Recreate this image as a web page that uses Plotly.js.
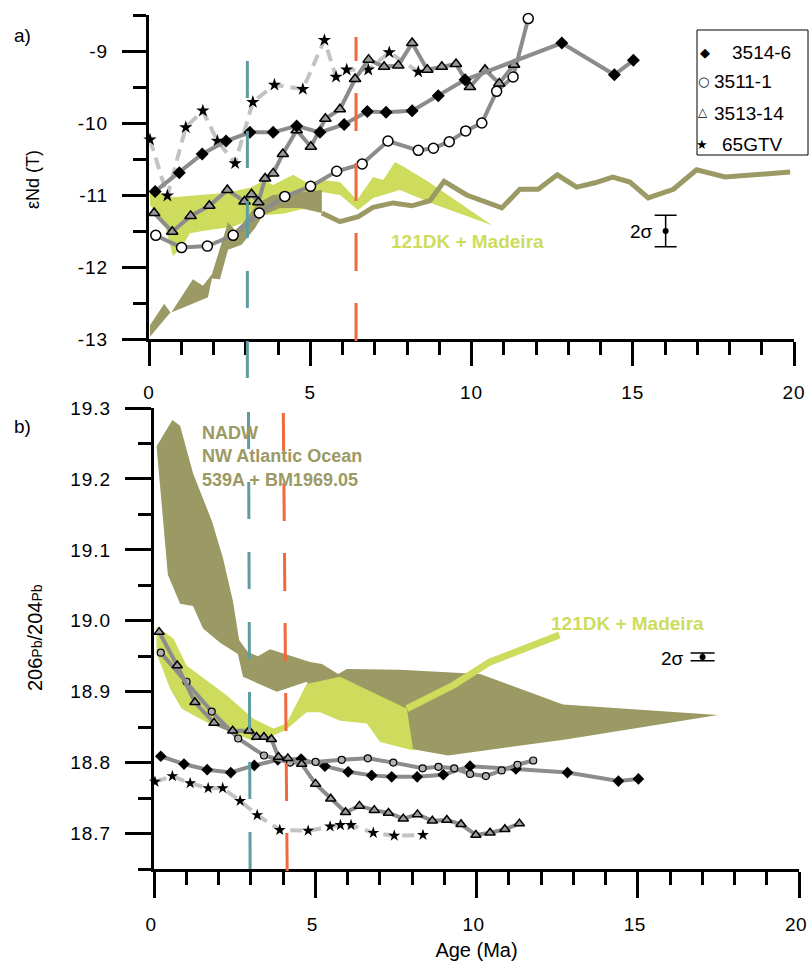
<!DOCTYPE html>
<html>
<head>
<meta charset="utf-8">
<script src="https://cdn.plot.ly/plotly-3.0.1.min.js"></script>
<style>
body{margin:0;background:#fff;}
.xtick text,.ytick text,.y2tick text{letter-spacing:1px;}
.x2tick text{letter-spacing:0.5px;}
</style>
</head>
<body>
<div id="chart" style="width:809px;height:961px;"></div>
<script>
// ---------- Panel a) eNd(T) ----------
const nd3514Age = [0.19,0.94,1.65,2.39,3.13,3.85,4.58,5.30,6.05,6.77,7.35,8.16,8.97,9.80,12.80,14.43,15.02];
const nd3514 = [-10.95,-10.69,-10.43,-10.25,-10.13,-10.13,-10.04,-10.13,-10.02,-9.84,-9.85,-9.83,-9.62,-9.40,-8.89,-9.33,-9.13];
const nd3511Age = [0.21,1.01,1.81,2.61,3.42,4.21,5.01,5.82,6.61,7.41,8.35,8.82,9.31,9.82,10.32,10.78,11.29,11.76];
const nd3511 = [-11.56,-11.73,-11.71,-11.56,-11.25,-11.02,-10.88,-10.67,-10.57,-10.25,-10.38,-10.35,-10.26,-10.11,-10.0,-9.56,-9.36,-8.55];
const nd3513Age = [0.16,0.72,1.29,1.87,2.43,2.96,3.18,3.39,3.60,3.85,4.15,4.58,5.02,5.47,5.92,6.39,6.81,7.29,7.73,8.16,8.63,9.08,9.52,9.95,10.42,10.86,11.32];
const nd3513 = [-11.25,-11.51,-11.29,-11.15,-10.93,-11.09,-10.99,-11.10,-10.77,-10.70,-10.43,-10.10,-10.33,-9.94,-9.81,-9.39,-9.12,-9.22,-9.20,-8.89,-9.26,-9.22,-9.18,-9.50,-9.26,-9.45,-9.19];
const ndGtvAge = [0.03,0.57,1.14,1.67,2.12,2.67,3.22,3.89,4.77,5.44,5.80,6.13,6.80,7.45,8.35];
const ndGtv = [-10.23,-11.01,-10.06,-9.83,-10.25,-10.56,-9.71,-9.47,-9.53,-8.85,-9.36,-9.26,-9.26,-9.02,-9.29];

// 121DK + Madeira envelope (outline, upper edge then lower edge back)
const ndMadeiraAge = [0.03,0.74,1.58,2.42,3.13,3.60,3.84,4.47,4.90,5.36,5.92,6.45,6.95,7.26,7.63,7.91,8.71,9.49,10.64,
                      8.90,7.78,6.95,6.48,5.92,5.36,4.90,4.16,3.50,2.60,1.80,1.27,1.02,0.74,0.50,0.19,0.03];
const ndMadeira = [-10.93,-11.03,-11.0,-10.97,-10.90,-10.79,-10.86,-10.72,-10.83,-10.79,-10.82,-11.07,-10.75,-10.79,-10.54,-10.61,-10.83,-11.07,-11.42,
                   -11.14,-10.93,-11.04,-11.21,-11.0,-10.96,-11.18,-11.26,-11.28,-11.44,-11.49,-11.53,-11.72,-11.85,-11.42,-11.24,-11.14];
// NADW envelope (outline)
const ndNadwAge = [0.03,0.47,0.68,1.36,1.67,1.95,2.45,2.67,2.91,3.38,3.84,5.36,
                   5.36,4.68,4.06,3.53,3.29,2.87,2.45,2.20,1.95,1.83,1.18,0.65,0.03];
const ndNadw = [-12.81,-12.51,-12.64,-12.17,-12.26,-12.10,-11.38,-11.49,-11.39,-11.11,-11.0,-10.93,
                -11.25,-11.18,-11.18,-11.28,-11.46,-11.69,-11.76,-12.17,-12.16,-12.42,-12.54,-12.64,-12.97];
// NADW single record beyond 5 Ma
const ndNadwLineAge = [5.36,5.92,6.49,6.95,7.57,8.15,8.71,9.15,9.85,10.94,11.50,12.07,12.66,13.26,13.83,14.38,14.91,15.48,16.26,16.98,17.86,19.88];
const ndNadwLine = [-11.25,-11.37,-11.30,-11.17,-11.11,-11.15,-11.08,-10.81,-11.0,-11.18,-10.92,-10.92,-10.72,-10.89,-10.83,-10.75,-10.82,-11.04,-10.92,-10.65,-10.75,-10.68];

const nd2sAge = [16.02], nd2sVal = [-11.5], nd2sErr = [0.22];
const ndTickVals = [-13,-12,-11,-10,-9];
const ndTickText = ['-13','-12','-11','-10','-9'];

// ---------- Panel b) 206Pb/204Pb ----------
const pb3514Age = [0.21,0.93,1.65,2.38,3.11,3.84,4.56,5.30,6.02,6.75,7.37,8.16,8.97,9.80,11.22,12.82,14.40,15.02];
const pb3514 = [18.809,18.798,18.790,18.786,18.796,18.804,18.805,18.795,18.787,18.782,18.780,18.780,18.783,18.795,18.791,18.786,18.774,18.777];
const pb3511Age = [0.21,1.01,1.79,2.61,3.41,4.22,5.01,5.82,6.63,7.42,8.33,8.82,9.31,9.80,10.29,10.78,11.27,11.76];
const pb3511 = [18.955,18.914,18.872,18.834,18.810,18.800,18.801,18.804,18.806,18.800,18.792,18.794,18.792,18.784,18.781,18.789,18.797,18.803];
const pb3513Age = [0.16,0.72,1.27,1.86,2.44,2.95,3.18,3.41,3.64,3.86,4.15,4.58,5.01,5.48,5.94,6.37,6.83,7.27,7.73,8.17,8.63,9.08,9.52,9.98,10.42,10.88,11.33];
const pb3513 = [18.984,18.937,18.885,18.856,18.845,18.845,18.836,18.836,18.833,18.808,18.806,18.798,18.770,18.749,18.730,18.739,18.733,18.729,18.721,18.727,18.718,18.719,18.713,18.698,18.701,18.706,18.714];
const pbGtvAge = [0.03,0.57,1.12,1.68,2.13,2.67,3.20,3.90,4.78,5.46,5.78,6.11,6.80,7.45,8.34];
const pbGtv = [18.773,18.781,18.771,18.764,18.764,18.746,18.726,18.705,18.704,18.710,18.712,18.712,18.701,18.697,18.698];

const pbNadwAge = [0.08,0.57,0.81,1.21,1.80,2.14,2.45,2.64,2.91,3.22,3.60,4.12,4.84,5.21,5.71,5.98,7.63,10.11,12.68,17.49,
                   12.81,9.12,8.03,6.79,5.77,5.15,4.74,3.81,2.76,2.60,2.05,1.52,1.21,0.81,0.43];
const pbNadw = [19.246,19.283,19.275,19.208,19.140,19.088,19.027,18.973,18.956,18.950,18.960,18.952,18.942,18.939,18.925,18.932,18.931,18.925,18.882,18.867,
                18.833,18.810,18.819,18.857,18.860,18.874,18.914,18.900,18.921,18.953,18.969,18.989,19.021,19.024,19.065];
const pbMadeiraAge = [0.08,0.60,1.01,1.63,2.25,3.08,3.70,4.11,4.73,5.77,7.84,8.04,
                      7.01,6.60,5.77,5.15,4.73,4.11,3.70,3.08,2.36,1.63,0.86,0.50,0.08];
const pbMadeira = [18.992,18.975,18.937,18.916,18.895,18.862,18.848,18.855,18.911,18.921,18.876,18.817,
                   18.829,18.855,18.859,18.871,18.871,18.847,18.838,18.831,18.843,18.857,18.876,18.904,18.954];
const pbMadeiraLineAge = [7.84,9.28,10.42,11.97,12.57];
const pbMadeiraLine = [18.876,18.909,18.942,18.970,18.980];

const pb2sAge = [17.01], pb2sVal = [18.949], pb2sErr = [0.0055];

// event lines (Ma)
const tealAgeA = 3.05, orangeAgeA = 6.42;
const tealAgeB = [2.93, 2.98], orangeAgeB = [4.01, 4.13];

// ---------- styles ----------
const FONT = 'Liberation Sans, Arial, sans-serif';
const OLIVE = '#9b9964';
const GREEN = '#cddc5c';
const LGRAY = '#8c8c8c';
const DGRAY = '#c3c3c3';
const TEAL = '#5f9c9f';
const ORANGE = '#f0693c';
const H = 961, W = 809;
const py = v => (H - v) / H;
const px = v => v / W;

function band(x, y, color, xa, ya) {
  return {x, y, xaxis: xa, yaxis: ya, mode: 'lines', fill: 'toself', fillcolor: color,
          line: {width: 0, color: color}, hoverinfo: 'skip'};
}
function series(x, y, xa, ya, lineColor, dash, marker) {
  return {x, y, xaxis: xa, yaxis: ya, mode: 'lines+markers', cliponaxis: false,
          line: {color: lineColor, width: 4, dash: dash}, marker: marker};
}

const traces = [
  band(ndMadeiraAge, ndMadeira, GREEN, 'x', 'y'),
  band(ndNadwAge, ndNadw, OLIVE, 'x', 'y'),
  {x: ndNadwLineAge, y: ndNadwLine, xaxis: 'x', yaxis: 'y', mode: 'lines', line: {color: OLIVE, width: 5}},
  series(ndGtvAge, ndGtv, 'x', 'y', DGRAY, '12px,7px', {symbol: 'star', size: 10, color: '#000'}),
  series(nd3511Age, nd3511, 'x', 'y', LGRAY, 'solid', {symbol: 'circle', size: 10, color: '#fff', line: {color: '#000', width: 1.5}}),
  series(nd3513Age, nd3513, 'x', 'y', LGRAY, 'solid', {symbol: 'triangle-up', size: 10, color: '#9a9a9a', line: {color: '#000', width: 1.5}}),
  series(nd3514Age, nd3514, 'x', 'y', LGRAY, 'solid', {symbol: 'diamond', size: 10, color: '#000'}),
  {x: nd2sAge, y: nd2sVal, xaxis: 'x', yaxis: 'y', mode: 'markers', marker: {size: 6, color: '#000'},
   error_y: {type: 'data', array: nd2sErr, color: '#000', thickness: 1.5, width: 11}},

  band(pbNadwAge, pbNadw, OLIVE, 'x2', 'y2'),
  band(pbMadeiraAge, pbMadeira, GREEN, 'x2', 'y2'),
  {x: pbMadeiraLineAge, y: pbMadeiraLine, xaxis: 'x2', yaxis: 'y2', mode: 'lines', line: {color: GREEN, width: 7}},
  series(pbGtvAge, pbGtv, 'x2', 'y2', DGRAY, '12px,7px', {symbol: 'star', size: 9, color: '#000'}),
  series(pb3514Age, pb3514, 'x2', 'y2', LGRAY, 'solid', {symbol: 'diamond', size: 9, color: '#000'}),
  series(pb3511Age, pb3511, 'x2', 'y2', LGRAY, 'solid', {symbol: 'circle', size: 7, color: '#b0b0b0', line: {color: '#000', width: 1.2}}),
  series(pb3513Age, pb3513, 'x2', 'y2', LGRAY, 'solid', {symbol: 'triangle-up', size: 9, color: '#9a9a9a', line: {color: '#000', width: 1.5}}),
  {x: pb2sAge, y: pb2sVal, xaxis: 'x2', yaxis: 'y2', mode: 'markers', marker: {size: 6, color: '#000'},
   error_y: {type: 'data', array: pb2sErr, color: '#000', thickness: 1.5, width: 12}}
];

const tickFont = {family: FONT, size: 19, color: '#000'};
const axBase = {showline: true, linewidth: 3, linecolor: '#000', ticks: 'outside', tickwidth: 3, tickcolor: '#000',
                showgrid: false, zeroline: false, tickfont: tickFont, fixedrange: true, ticklabeloverflow: 'allow'};

function note(x, y, text, size, extra) {
  return Object.assign({xref: 'paper', yref: 'paper', x: px(x), y: py(y), text: text, showarrow: false,
                        xanchor: 'center', yanchor: 'middle', font: {family: FONT, size: size, color: '#000'}}, extra || {});
}

const layout = {
  width: W, height: H, margin: {l: 0, r: 0, t: 0, b: 0},
  paper_bgcolor: '#fff', plot_bgcolor: 'rgba(0,0,0,0)', showlegend: false,
  font: {family: FONT, color: '#000'},
  xaxis: Object.assign({}, axBase, {domain: [px(149), px(794)], anchor: 'y', range: [0, 20], tickmode: 'linear', tick0: 0, dtick: 5,
    ticklen: 24, ticklabelstandoff: 10,
    minor: {ticks: 'outside', tickmode: 'linear', tick0: 0, dtick: 1, ticklen: 13, tickwidth: 3, tickcolor: '#000'}}),
  yaxis: Object.assign({}, axBase, {domain: [py(339), py(15)], anchor: 'x', range: [-13, -8.5], tickmode: 'array',
    tickvals: ndTickVals, ticktext: ndTickText, ticklen: 24, ticklabelstandoff: 10,
    minor: {ticks: 'outside', tickmode: 'linear', tick0: -13, dtick: 0.5, ticklen: 13, tickwidth: 3, tickcolor: '#000'}}),
  xaxis2: Object.assign({}, axBase, {domain: [px(154), px(799)], anchor: 'y2', range: [0, 20], tickmode: 'linear', tick0: 0, dtick: 5,
    ticklen: 26, ticklabelstandoff: 10, ticklabelshift: -3,
    title: {text: 'Age (Ma)', font: {family: FONT, size: 20, color: '#000'}, standoff: 10},
    minor: {ticks: 'outside', tickmode: 'linear', tick0: 0, dtick: 1, ticklen: 13, tickwidth: 3, tickcolor: '#000'}}),
  yaxis2: Object.assign({}, axBase, {domain: [py(869), py(408)], anchor: 'x2', range: [18.65, 19.3], tickmode: 'linear',
    tick0: 18.7, dtick: 0.1, tickformat: '.1f', ticklen: 26, ticklabelstandoff: 10,
    minor: {ticks: 'outside', tickmode: 'linear', tick0: 18.65, dtick: 0.05, ticklen: 13, tickwidth: 3, tickcolor: '#000'}}),
  shapes: [
    {type: 'line', xref: 'x', yref: 'paper', x0: tealAgeA, x1: tealAgeA, y0: py(61), y1: py(379), line: {color: TEAL, width: 3, dash: '37px,33px'}},
    {type: 'line', xref: 'x', yref: 'paper', x0: orangeAgeA, x1: orangeAgeA, y0: py(37), y1: py(61), line: {color: ORANGE, width: 3}},
    {type: 'line', xref: 'x', yref: 'paper', x0: orangeAgeA, x1: orangeAgeA, y0: py(93), y1: py(341), line: {color: ORANGE, width: 3, dash: '38px,32px'}},
    {type: 'line', xref: 'x2', yref: 'paper', x0: tealAgeB[0], x1: tealAgeB[1], y0: py(412), y1: py(869), line: {color: TEAL, width: 3, dash: '37px,33px'}},
    {type: 'line', xref: 'x2', yref: 'paper', x0: orangeAgeB[0], x1: orangeAgeB[1], y0: py(413), y1: py(873), line: {color: ORANGE, width: 3, dash: '38px,32px'}},
    {type: 'rect', xref: 'paper', yref: 'paper', x0: px(697), x1: px(808), y0: py(155), y1: py(30), line: {color: '#000', width: 1}, fillcolor: '#fff'}
  ],
  annotations: [
    note(22, 36, 'a)', 19),
    note(22, 427, 'b)', 19),
    note(33, 180, 'εNd (T)', 18, {textangle: -90}),
    note(35, 638, '206<span style="font-size:14px">Pb</span>/204<span style="font-size:14px">Pb</span>', 20, {textangle: -90}),
    {xref: 'x', yref: 'y', x: 9.88, y: -11.65, text: '<b>121DK + Madeira</b>', showarrow: false, font: {family: FONT, size: 19, color: GREEN}},
    {xref: 'x2', yref: 'y2', x: 14.67, y: 18.996, text: '<b>121DK + Madeira</b>', showarrow: false, font: {family: FONT, size: 19, color: GREEN}},
    {xref: 'x2', yref: 'y2', x: 1.43, y: 19.232, xanchor: 'left', align: 'left',
     text: '<b>NADW<br>NW Atlantic Ocean<br>539A + BM1969.05</b>', showarrow: false, font: {family: FONT, size: 18, color: OLIVE}},
    {xref: 'x', yref: 'y', x: 15.28, y: -11.5, text: '2σ', showarrow: false, font: {family: FONT, size: 19}},
    {xref: 'x2', yref: 'y2', x: 16.09, y: 18.947, text: '2σ', showarrow: false, font: {family: FONT, size: 19}},
    // legend
    note(705, 52, '◆', 13, {font: {family: 'DejaVu Sans', size: 13, color: '#000'}}),
    note(703, 82, '○', 13, {font: {family: 'DejaVu Sans', size: 13, color: '#000'}}),
    note(703, 112, '△', 12, {font: {family: 'DejaVu Sans', size: 12, color: '#000'}}),
    note(702, 145, '★', 13, {font: {family: 'DejaVu Sans', size: 13, color: '#000'}}),
    note(730, 52, '3514-6', 19, {xanchor: 'left'}),
    note(712, 82, '3511-1', 19, {xanchor: 'left'}),
    note(712, 113, '3513-14', 19, {xanchor: 'left'}),
    note(720, 145, '65GTV', 19, {xanchor: 'left'})
  ]
};

Plotly.newPlot('chart', traces, layout, {staticPlot: true, displayModeBar: false});
</script>
</body>
</html>
